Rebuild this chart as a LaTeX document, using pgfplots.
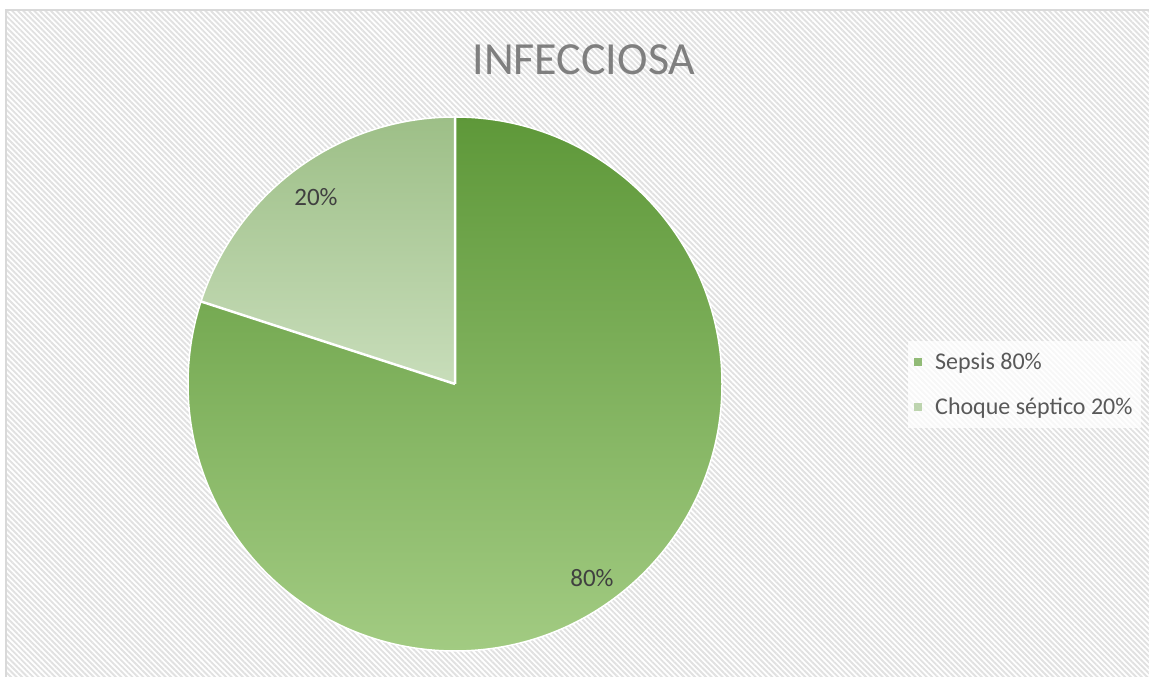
\documentclass[border=0pt]{standalone}
\usepackage{pgfplots}
\pgfplotsset{compat=1.18}
\usepackage{pgfplotstable}
\usepackage{fontspec}
\setmainfont{Carlito}
\usetikzlibrary{patterns.meta}

\definecolor{sepTop}{HTML}{5E9839}
\definecolor{sepBot}{HTML}{A2CB82}
\definecolor{sepMid}{HTML}{6FA64B}
\definecolor{choTop}{HTML}{9DBF87}
\definecolor{choBot}{HTML}{C8DDBA}
\definecolor{choMid}{HTML}{A9C896}
\definecolor{titlegray}{HTML}{7F7F7F}
\definecolor{legtext}{HTML}{595959}
\definecolor{labtext}{HTML}{404040}
\definecolor{stripe}{HTML}{E1E1E1}
\definecolor{framegray}{HTML}{D9D9D9}

% share of each category (percent)
\pgfplotstableread{
label value
Sepsis 80
Choque 20
}\piedata

\begin{document}
\begin{tikzpicture}
\pgfplotstablegetelem{0}{value}\of\piedata \let\valA\pgfplotsretval
\pgfplotstablegetelem{1}{value}\of\piedata \let\valB\pgfplotsretval
\pgfmathsetmacro{\angA}{90-3.6*\valA}
\pgfmathsetmacro{\angB}{\angA-3.6*\valB}
\begin{axis}[
    name=ax,
    x=1pt, y=1pt,
    xmin=0, xmax=1149,
    ymin=0, ymax=677,
    disabledatascaling,
    hide axis,
    clip=false,
    legend image code/.code={\fill[#1,draw=none] (0pt,-4pt) rectangle (8pt,4pt); \path[draw=none,fill=none] (0pt,0pt) -- (19pt,0pt);},
    legend style={
        at={(axis cs:908,292.5)}, anchor=west,
        draw=none, fill=white, fill opacity=0.75, text opacity=1,
        font=\fontsize{24}{28}\selectfont,
        text=legtext,
        row sep=22pt,
        inner xsep=6pt, inner ysep=10pt,
        cells={anchor=west},
    },
]
% background
\fill[white] (axis cs:-10,-10) rectangle (axis cs:1160,690);
\fill[pattern={Lines[angle=-45,distance=3.9pt,line width=1.9pt]}, pattern color=stripe]
    (axis cs:6,-10) rectangle (axis cs:1160,667);
\draw[framegray, line width=1.5pt] (axis cs:6,-10) -- (axis cs:6,667) -- (axis cs:1160,667);

% slices
\shade[top color=sepTop, bottom color=sepBot]
    (axis cs:455,293) -- ++(90:267) arc[start angle=90, end angle=\angA, radius=267] -- cycle;
\shade[top color=choTop, bottom color=choBot]
    (axis cs:455,293) -- ++(\angA:267) arc[start angle=\angA, end angle=\angB, radius=267] -- cycle;
\draw[white, line width=2.5pt, line join=round]
    (axis cs:455,293) -- ++(90:267) (axis cs:455,293) -- ++(\angA:267);
\draw[white, line width=1.5pt] (axis cs:455,293) circle[radius=267];

% data labels
\node[font=\fontsize{25}{29}\selectfont, text=labtext] at (axis cs:592,99) {\valA\%};
\node[font=\fontsize{25}{29}\selectfont, text=labtext] at (axis cs:316,480) {\valB\%};

% title
\node[font=\fontsize{46}{50}\selectfont, text=titlegray] at (axis cs:584,617) {INFECCIOSA};

\addlegendimage{fill=sepMid}
\addlegendentry{Sepsis 80\%}
\addlegendimage{fill=choMid}
\addlegendentry{Choque séptico 20\%}
\end{axis}
\pgfresetboundingbox
\useasboundingbox (ax.south west) rectangle (ax.north east);
\end{tikzpicture}
\end{document}
